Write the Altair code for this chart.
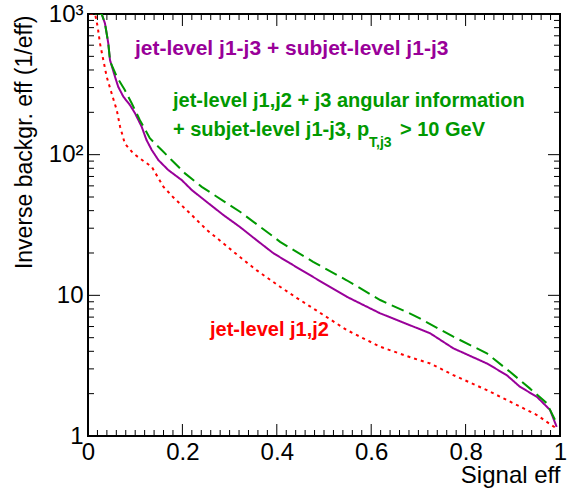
import altair as alt
import pandas as pd

# Signal efficiency vs inverse background efficiency for three taggers
red_x = [0.004, 0.015, 0.0205, 0.0254, 0.0325, 0.0396, 0.050, 0.061, 0.068, 0.078,
         0.096, 0.110, 0.135, 0.160, 0.180, 0.216, 0.252, 0.287, 0.322, 0.357,
         0.407, 0.442, 0.477, 0.548, 0.619, 0.689, 0.725, 0.774, 0.845, 0.915,
         0.951, 0.972, 0.993]
red_y = [1000, 1000, 811, 618, 470, 358, 273, 207, 158, 120,
         102, 94, 82, 59, 50, 38.3, 29.1, 23.4, 18.7, 15.1,
         11.5, 9.6, 8.08, 5.67, 4.31, 3.57, 3.28, 2.71, 2.12, 1.62,
         1.41, 1.26, 1.13]

purple_x = [0.015, 0.029, 0.036, 0.043, 0.0466, 0.0487, 0.0572, 0.064, 0.075, 0.089,
            0.0996, 0.1137, 0.124, 0.135, 0.149, 0.170, 0.1985, 0.220, 0.252, 0.287,
            0.322, 0.357, 0.393, 0.428, 0.477, 0.548, 0.619, 0.725, 0.774, 0.845,
            0.887, 0.915, 0.951, 0.979, 0.993]
purple_y = [1000, 1000, 857, 618, 470, 446, 358, 304, 258, 225,
            197, 158, 127, 108, 91.6, 77.8, 66, 56, 46.0, 37.2,
            30.6, 24.7, 19.9, 16.9, 13.5, 9.78, 7.45, 5.37, 4.20, 3.28,
            2.71, 2.24, 1.90, 1.53, 1.16]

green_x = [0.015, 0.029, 0.036, 0.043, 0.0466, 0.0487, 0.061, 0.078, 0.0926, 0.110,
           0.131, 0.142, 0.156, 0.177, 0.2055, 0.241, 0.322, 0.393, 0.407, 0.477,
           0.548, 0.619, 0.689, 0.703, 0.774, 0.845, 0.894, 0.936, 0.972, 0.993]
green_y = [1000, 1000, 857, 618, 470, 446, 358, 288, 232, 176,
           131, 120, 108, 91.6, 73.6, 59, 39.3, 26.1, 24.0, 17.3,
           12.8, 9.26, 7.24, 6.86, 5.08, 3.87, 2.86, 2.18, 1.71, 1.23]

series_keys = ["j1j2", "j1j3_sub", "ang_sub"]
series_colors = ["#ff0000", "#990099", "#009900"]
series_dash = [[3, 4], [1, 0], [13, 6]]

x_major = [0, 0.2, 0.4, 0.6, 0.8, 1.0]
x_minor = [round(i * 0.02, 2) for i in range(1, 50) if i % 10 != 0]
y_major = [1, 10, 100, 1000]
y_minor = [2, 3, 4, 5, 6, 7, 8, 9,
           20, 30, 40, 50, 60, 70, 80, 90,
           200, 300, 400, 500, 600, 700, 800, 900]

W, H = 472, 422
FONT = "Liberation Sans"

rows = []
for key, xs, ys in zip(series_keys, [red_x, purple_x, green_x], [red_y, purple_y, green_y]):
    for xv, yv in zip(xs, ys):
        rows.append({"series": key, "sig": xv, "inv": yv})
curves = pd.DataFrame(rows)

xscale = alt.Scale(domain=[0, 1], nice=False, zero=False)
yscale = alt.Scale(type="log", domain=[1, 1000], nice=False)

x_axis = alt.Axis(
    values=x_major, ticks=False, domain=False, grid=False,
    labelExpr="datum.value == 0 ? '0' : datum.value == 1 ? '1' : format(datum.value, '.1f')",
    labelFontSize=24, labelFont=FONT, labelColor="black", labelPadding=4,
    labelFlush=False, labelOverlap=False,
    title="Signal eff", titleFont=FONT, titleFontSize=24, titleFontWeight="normal",
    titleColor="black", titleAnchor="end", titleAlign="right", titleBaseline="alphabetic",
    titleX=W, titleY=46)

y_axis = alt.Axis(
    values=y_major, ticks=False, domain=False, grid=False,
    labelExpr="datum.value == 1 ? '1' : datum.value == 10 ? '10' : datum.value == 100 ? '10²' : '10³'",
    labelFontSize=24, labelFont=FONT, labelColor="black", labelPadding=5,
    labelFlush=False, labelOverlap=False, labelBaseline="middle",
    title="Inverse backgr. eff (1/eff)", titleFont=FONT, titleFontSize=23,
    titleFontWeight="normal", titleColor="black", titleAngle=-90,
    titleAnchor="end", titleAlign="right", titleBaseline="alphabetic",
    titleX=-57, titleY=1)

lines = alt.Chart(curves).mark_line(strokeWidth=2, clip=True).encode(
    x=alt.X("sig:Q", scale=xscale, axis=x_axis, title="Signal eff"),
    y=alt.Y("inv:Q", scale=yscale, axis=y_axis, title="Inverse backgr. eff (1/eff)"),
    color=alt.Color("series:N", scale=alt.Scale(domain=series_keys, range=series_colors), legend=None),
    strokeDash=alt.StrokeDash("series:N", scale=alt.Scale(domain=series_keys, range=series_dash), legend=None),
)


def y_ticks(values, length):
    base = alt.Chart(pd.DataFrame({"inv": values}))
    enc_y = alt.Y("inv:Q", scale=yscale, axis=y_axis, title="Inverse backgr. eff (1/eff)")
    left = base.mark_rule(color="black", strokeWidth=1).encode(
        y=enc_y, x=alt.value(0), x2=alt.value(length))
    right = base.mark_rule(color="black", strokeWidth=1).encode(
        y=enc_y, x=alt.value(W), x2=alt.value(W - length))
    return [left, right]


def x_ticks(values, length):
    base = alt.Chart(pd.DataFrame({"sig": values}))
    enc_x = alt.X("sig:Q", scale=xscale, axis=x_axis, title="Signal eff")
    bottom = base.mark_rule(color="black", strokeWidth=1).encode(
        x=enc_x, y=alt.value(H), y2=alt.value(H - length))
    top = base.mark_rule(color="black", strokeWidth=1).encode(
        x=enc_x, y=alt.value(0), y2=alt.value(length))
    return [bottom, top]


def label(text, px, py, color, size):
    return alt.Chart(pd.DataFrame({"t": [text]})).mark_text(
        align="left", baseline="alphabetic", font=FONT, fontWeight="bold",
        fontSize=size, color=color).encode(
        text="t:N", x=alt.value(px), y=alt.value(py))


labels = [
    label("jet-level j1-j3 + subjet-level j1-j3", 135 - 88, 55 - 14, "#990099", 21),
    label("jet-level j1,j2 + j3 angular information", 173 - 88, 107 - 14, "#009900", 20),
    label("+ subjet-level j1-j3, p", 173 - 88, 136 - 14, "#009900", 20),
    label("T,j3", 369 - 88, 147 - 14, "#009900", 14),
    label("> 10 GeV", 400 - 88, 136 - 14, "#009900", 20),
    label("jet-level j1,j2", 210 - 88, 336 - 14, "#ff0000", 20),
]

layers = [lines]
layers += y_ticks(y_major, 12) + y_ticks(y_minor, 6)
layers += x_ticks(x_major, 12) + x_ticks(x_minor, 6)
layers += labels

chart = alt.layer(*layers).properties(
    width=W, height=H,
    autosize=alt.AutoSizeParams(type="none"),
    padding={"left": 88, "top": 14, "right": 10, "bottom": 57},
    background="white",
).configure_view(stroke="black", strokeWidth=2)

chart.save("out.html", embed_options={"renderer": "svg", "actions": False})
